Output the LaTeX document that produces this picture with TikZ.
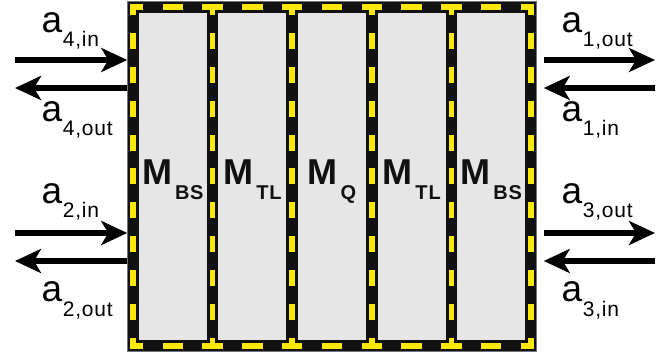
\documentclass[tikz,border=0pt]{standalone}
\usepackage{fontspec}
\setmainfont{Liberation Sans}
\usetikzlibrary{arrows.meta}
\definecolor{frameblack}{RGB}{17,17,17}
\definecolor{modgray}{RGB}{230,230,230}
\definecolor{dashyellow}{RGB}{250,232,12}
\newcommand\alab[1]{\fontsize{37}{37}\selectfont a\kern0.5pt\fontsize{21}{21}\selectfont\addfontfeature{LetterSpace=4}\raisebox{-14pt}{#1}}
\newcommand\mlab[1]{\fontsize{36}{36}\selectfont\bfseries M\kern3pt\fontsize{20}{20}\selectfont\addfontfeature{LetterSpace=4}\raisebox{-15pt}{#1}}
\begin{document}
\begin{tikzpicture}[x=1pt,y=-1pt,
  module/.style={draw=frameblack, fill=modgray, line width=11.5pt, minimum width=79.6pt,
    minimum height=339pt, inner sep=0pt, outer sep=5.75pt, rectangle},
  vdash/.style={draw=dashyellow, line width=5.5pt, line cap=rect,
    dash pattern=on 10.5pt off 23.4pt, dash phase=5.25pt},
  hdash/.style={draw=dashyellow, line width=5.5pt, line cap=rect,
    dash pattern=on 15pt off 24.8pt, dash phase=7.5pt},
  arr/.style={draw=black, line width=6.5pt,
    -{Stealth[length=26pt,width=24pt,inset=7pt]}},
  alabel/.style={anchor=base west, inner sep=0pt, text=black},
  mlabel/.style={anchor=base, inner sep=0pt, text=frameblack}
]
\useasboundingbox (0,0) rectangle (670,358);
% modules
\node[module] (m1) at (172.8,176.5) {};
\node[module] (m2) at (252.4,176.5) {};
\node[module] (m3) at (332.0,176.5) {};
\node[module] (m4) at (411.6,176.5) {};
\node[module] (m5) at (491.2,176.5) {};
\draw[black!55, line width=0.8pt] (127.25,1.25) rectangle (536.75,351.75);
% grid coordinates of border center lines
\foreach \i/\x in {0/133,1/212.6,2/292.2,3/371.8,4/451.4,5/531}{
  \coordinate (t\i) at (\x,7);
  \coordinate (b\i) at (\x,346);
}
% yellow dashes
\foreach \i in {0,...,5}{ \draw[vdash] (t\i) -- (b\i); }
\foreach \i/\j in {0/1,1/2,2/3,3/4,4/5}{
  \draw[hdash] (t\i) -- (t\j);
  \draw[hdash] (b\i) -- (b\j);
}
% module labels
\node[mlabel] (l1) at (172.8,185) {\mlab{BS}};
\node[mlabel] (l2) at (252.4,185) {\mlab{TL}};
\node[mlabel] (l3) at (332.0,185) {\mlab{Q}};
\node[mlabel] (l4) at (411.6,185) {\mlab{TL}};
\node[mlabel] (l5) at (491.2,185) {\mlab{BS}};
% arrow free ends
\coordinate (e4in) at (15,60);
\coordinate (e4out) at (15,88);
\coordinate (e2in) at (15,233);
\coordinate (e2out) at (15,261);
\coordinate (e1out) at (655,60);
\coordinate (e1in) at (655,88);
\coordinate (e3out) at (655,233);
\coordinate (e3in) at (655,261);
% arrows
\draw[arr] (e4in) -- (e4in -| m1.west);
\draw[arr] (e4out -| m1.west) -- (e4out);
\draw[arr] (e2in) -- (e2in -| m1.west);
\draw[arr] (e2out -| m1.west) -- (e2out);
\draw[arr] ([xshift=7pt]e1out -| m5.east) -- (e1out);
\draw[arr] (e1in) -- ([xshift=7pt]e1in -| m5.east);
\draw[arr] ([xshift=7pt]e3out -| m5.east) -- (e3out);
\draw[arr] (e3in) -- ([xshift=7pt]e3in -| m5.east);
% arrow labels
\node[alabel] (a4in) at (41.5,33) {\alab{4,in}};
\node[alabel] (a4out) at (41.5,122) {\alab{4,out}};
\node[alabel] (a2in) at (41.5,204) {\alab{2,in}};
\node[alabel] (a2out) at (41.5,302) {\alab{2,out}};
\node[alabel] (a1out) at (561.5,33) {\alab{1,out}};
\node[alabel] (a1in) at (561.5,122) {\alab{1,in}};
\node[alabel] (a3out) at (561.5,204) {\alab{3,out}};
\node[alabel] (a3in) at (561.5,302) {\alab{3,in}};
\end{tikzpicture}
\end{document}
